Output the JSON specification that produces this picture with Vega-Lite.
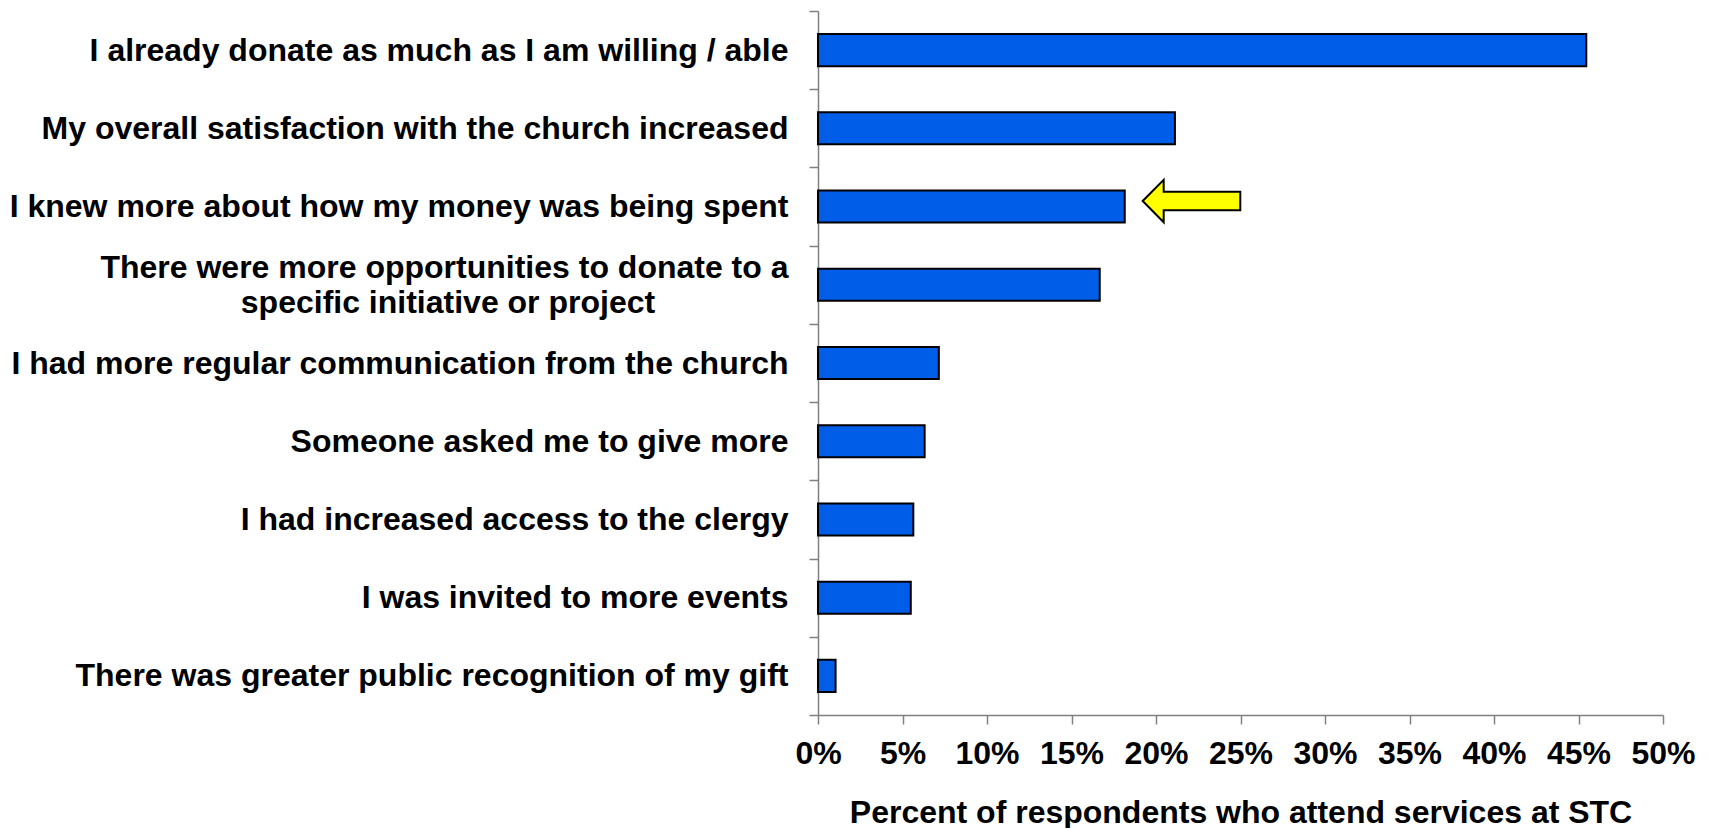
{
  "$schema": "https://vega.github.io/schema/vega-lite/v6.json",
  "width": 845,
  "height": 704,
  "autosize": {"type": "none"},
  "padding": {"left": 818, "top": 11, "right": 48, "bottom": 113},
  "background": "white",
  "config": {
    "view": {"stroke": null},
    "font": "Liberation Sans",
    "axis": {
      "labelFont": "Liberation Sans",
      "titleFont": "Liberation Sans",
      "labelFontWeight": "bold",
      "titleFontWeight": "bold",
      "labelFontSize": 32,
      "titleFontSize": 32,
      "labelColor": "black",
      "titleColor": "black",
      "domainColor": "#808080",
      "tickColor": "#808080",
      "domainWidth": 1.5,
      "tickWidth": 1.5,
      "grid": false
    }
  },
  "data": {
    "values": [
      {"reason": "I already donate as much as I am willing / able", "pct": 45.46, "arrow": null},
      {"reason": "My overall satisfaction with the church increased", "pct": 21.12, "arrow": null},
      {"reason": "I knew more about how my money was being spent", "pct": 18.15, "arrow": 22.1},
      {"reason": "There were more opportunities to donate to a specific initiative or project", "pct": 16.67, "arrow": null},
      {"reason": "I had more regular communication from the church", "pct": 7.15, "arrow": null},
      {"reason": "Someone asked me to give more", "pct": 6.31, "arrow": null},
      {"reason": "I had increased access to the clergy", "pct": 5.64, "arrow": null},
      {"reason": "I was invited to more events", "pct": 5.49, "arrow": null},
      {"reason": "There was greater public recognition of my gift", "pct": 1.04, "arrow": null}
    ]
  },
  "encoding": {
    "y": {
      "field": "reason",
      "type": "nominal",
      "sort": null,
      "scale": {"paddingInner": 0, "paddingOuter": 0},
      "axis": {
        "title": null,
        "tickBand": "extent",
        "tickSize": 9,
        "labelPadding": 21,
        "labelLimit": 0,
        "labelLineHeight": 35,
        "labelOffset": {
          "condition": {"test": "datum.label == 'There were more opportunities to donate to a specific initiative or project'", "value": -17},
          "value": 0
        },
        "labelExpr": "datum.label == 'There were more opportunities to donate to a specific initiative or project' ? ['There were more opportunities to donate to a', 'specific initiative or project\u00a0\u00a0\u00a0\u00a0\u00a0\u00a0\u00a0\u00a0\u00a0\u00a0\u00a0\u00a0\u00a0\u00a0\u00a0\u200b'] : datum.label"
      }
    }
  },
  "layer": [
    {
      "mark": {"type": "bar", "fill": "#005de8", "stroke": "black", "strokeWidth": 2, "height": {"band": 0.41}},
      "encoding": {
        "x": {
          "field": "pct",
          "type": "quantitative",
          "scale": {"domain": [0, 50], "nice": false},
          "axis": {
            "title": "Percent of respondents who attend services at STC",
            "values": [0, 5, 10, 15, 20, 25, 30, 35, 40, 45, 50],
            "labelExpr": "datum.value + '%'",
            "tickSize": 9,
            "labelPadding": 14,
            "titlePadding": 28,
            "labelFlush": false,
            "labelOverlap": false
          }
        }
      }
    },
    {
      "mark": {
        "type": "point",
        "shape": "M -1 0 L -0.57 -0.434 L -0.57 -0.19 L 1 -0.19 L 1 0.19 L -0.57 0.19 L -0.57 0.434 Z",
        "size": 9526,
        "filled": true,
        "fill": "#ffff00",
        "stroke": "black",
        "strokeWidth": 2,
        "opacity": 1,
        "yOffset": -5.5
      },
      "encoding": {
        "x": {"field": "arrow", "type": "quantitative"}
      }
    }
  ]
}
